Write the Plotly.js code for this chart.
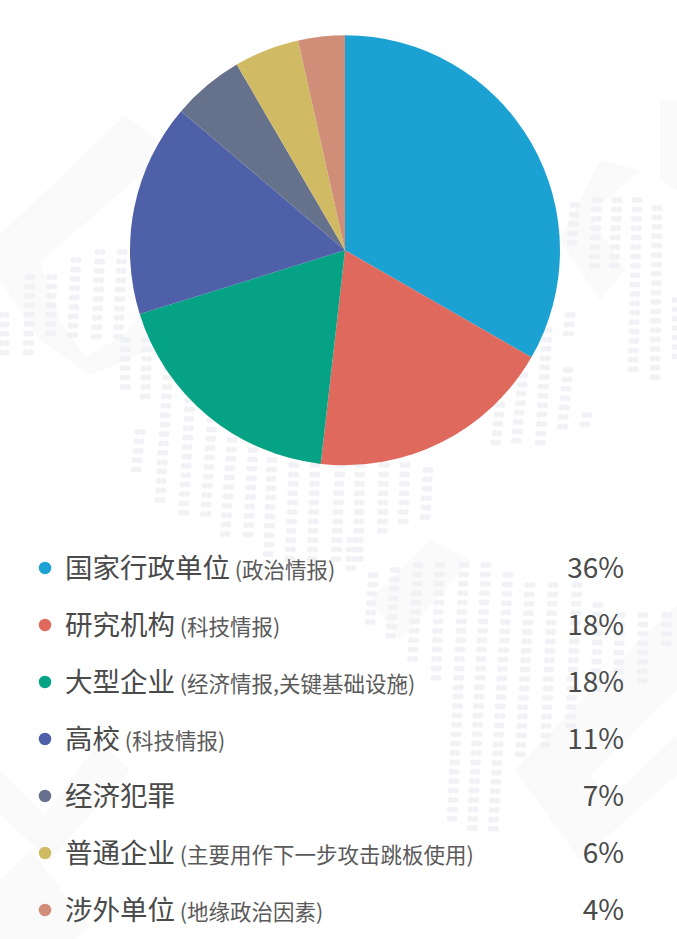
<!DOCTYPE html>
<html><head><meta charset="utf-8">
<script src="https://cdn.plot.ly/plotly-3.0.1.min.js"></script>
<style>html,body{margin:0;padding:0;background:#fff}#c{width:677px;height:939px}</style>
</head><body><div id="c"></div>
<script>
const categories=['国家行政单位','研究机构','大型企业','高校','经济犯罪','普通企业','涉外单位'];
const notes=['(政治情报)','(科技情报)','(经济情报,关键基础设施)','(科技情报)','','(主要用作下一步攻击跳板使用)','(地缘政治因素)'];
const shareLabels=['36%','18%','18%','11%','7%','6%','4%'];
const sliceValues=[33.3,18.5,18.4,16.0,5.4,4.9,3.5];
const sliceColors=['#1ba1d2','#e0695e','#05a285','#4e60a8','#66718c','#d0bb64','#d08e78'];
const dotColors=['#1ba1d2','#e0695e','#05a285','#4c5fa8','#67708f','#d0bb64','#d08e78'];

// faint dotted world-map watermark: xTop, xBottom, yTop, yBottom of each dot column
const mapCols=[
[4,4,315,360],[30,28,277,360],[52,50,277,340],[76,72,260,342],[100,96,252,342],[122,118,252,342],
[125,125,340,387],[147,145,340,405],[170,160,340,500],[140,136,432,470],[190,183,400,520],[212,205,420,520],
[232,225,440,535],[253,248,450,535],[272,268,460,560],[294,290,465,560],[315,312,465,560],[340,336,465,560],
[360,358,465,560],[384,382,465,540],[405,403,465,530],[428,425,470,520],[352,350,540,575],[373,370,575,625],
[395,390,570,645],[418,412,565,665],[440,436,565,680],[464,452,565,820],[486,472,565,830],[508,493,575,830],
[530,520,585,757],[553,545,585,750],[577,570,585,730],[598,596,605,690],[620,618,615,690],[643,642,615,685],[667,666,615,645],
[575,572,205,245],[597,594,200,270],[617,614,200,270],[637,633,200,370],[657,655,208,378],[677,677,300,360],
[570,568,315,340],[547,540,330,445],[568,562,370,430],[587,585,415,425],[523,516,375,445],[500,495,405,450]
];
const mapX=[],mapY=[];
mapCols.forEach(([xa,xb,ya,yb])=>{
  for(let y=ya;y<=yb;y+=9.4){
    const x=xa+(xb-xa)*(y-ya)/Math.max(1,yb-ya);
    mapX.push(x-2.5,x+2.5);mapY.push(y,y);
  }
});

const rowY=i=>568+i*57;
const rows=categories.map((_,i)=>rowY(i));
const textRows=rows.map(y=>y+3);
const mainText=categories.map((c,i)=>c+(notes[i]?'<span style="font-size:21.5px;fill:#5a5a5a"> '+notes[i]+'</span>':''));
const font='"Noto Sans CJK SC","Noto Sans",sans-serif';

const data=[
 {type:'scatter',mode:'markers',x:mapX,y:mapY,hoverinfo:'skip',showlegend:false,
  marker:{size:6,color:'#f1f2f5',line:{width:0}}},
 {type:'scatter',mode:'markers',x:rows.map(()=>45),y:rows,hoverinfo:'skip',showlegend:false,
  marker:{size:12.5,color:dotColors,line:{width:0}}},
 {type:'scatter',mode:'text',x:rows.map(()=>65),y:textRows,text:mainText,textposition:'middle right',
  textfont:{family:font,size:27.5,color:'#4a4a4a'},hoverinfo:'skip',showlegend:false},
 {type:'scatter',mode:'text',x:rows.map(()=>624),y:textRows,text:shareLabels,textposition:'middle left',
  textfont:{family:font,size:28,color:'#4a4a4a'},hoverinfo:'skip',showlegend:false},
 {type:'pie',labels:categories,values:sliceValues,sort:false,direction:'clockwise',rotation:0,
  textinfo:'none',hoverinfo:'label+percent',showlegend:false,
  marker:{colors:sliceColors,line:{width:0}},
  domain:{x:[130/677,560/677],y:[1-465.5/939,1-35/939]}}
];

const band=(pts)=>({type:'path',layer:'below',xref:'x',yref:'y',line:{width:0},fillcolor:'#fafafb',
  path:'M'+pts.map(p=>p.join(',')).join('L')+'Z'});
const shapes=[
 band([[0,235],[125,115],[170,150],[40,262],[60,320],[85,357],[125,335],[150,300],[150,350],[90,375],[40,340],[0,280]]),
 band([[515,770],[640,640],[677,605],[677,690],[590,775],[610,800],[677,735],[677,775],[580,860]]),
 band([[370,600],[430,540],[470,560],[400,640]]),
 band([[0,770],[45,815],[100,740],[130,770],[50,860],[0,815]]),
 band([[0,880],[30,850],[90,925],[75,939],[0,939]]),
 band([[660,100],[677,100],[677,190],[660,180]]),
 band([[600,160],[640,170],[590,215],[625,270],[600,300],[560,240]])
];

Plotly.newPlot('c',data,{
  width:677,height:939,margin:{l:0,r:0,t:0,b:0},
  paper_bgcolor:'#fff',plot_bgcolor:'rgba(0,0,0,0)',showlegend:false,
  xaxis:{range:[0,677],visible:false,fixedrange:true},
  yaxis:{range:[939,0],visible:false,fixedrange:true},
  shapes
},{displayModeBar:false,staticPlot:true});
</script></body></html>
